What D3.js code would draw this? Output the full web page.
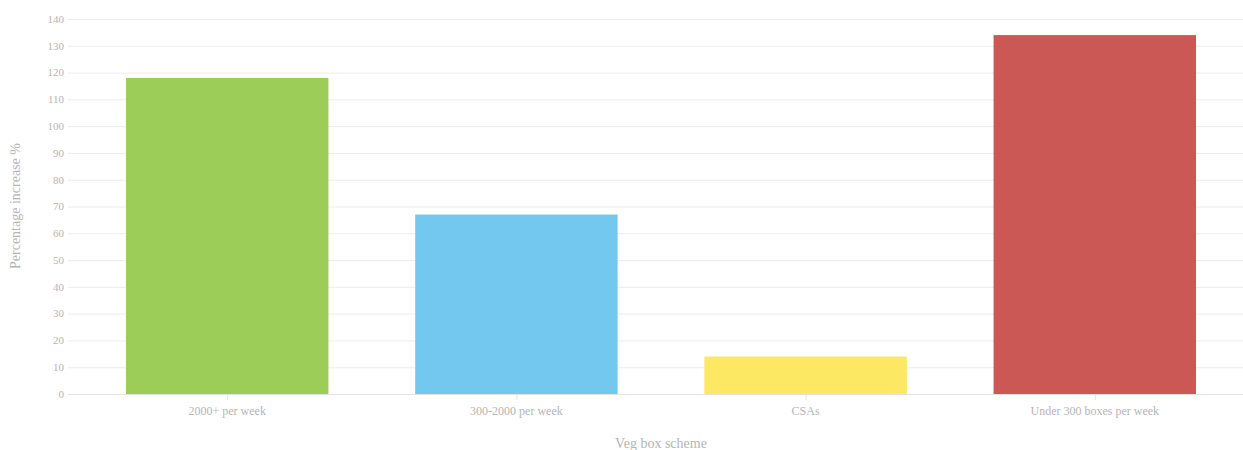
<!DOCTYPE html>
<html lang="en">
<head>
    <meta charset="utf-8">
    <script src="https://cdn.jsdelivr.net/npm/d3@7"></script>
    <style>
        body { margin: 0; background: white; }
        text { font-family: "Liberation Serif", serif; fill: #b5b5b5; }
        .grid line { stroke: #ececec; stroke-width: 1px; }
    </style>
</head>
<body>
<script>
    const categories = ['2000+ per week', '300-2000 per week', 'CSAs', 'Under 300 boxes per week'];
    const values = [118, 67, 14, 134];
    const colors = ['#97ca4f', '#6cc5ee', '#fce75b', '#c84f4c'];
    const yTicks = [0, 10, 20, 30, 40, 50, 60, 70, 80, 90, 100, 110, 120, 130, 140];

    const width = 1243, height = 450;
    const svg = d3.select('body').append('svg')
        .attr('width', width).attr('height', height);

    const y = d3.scaleLinear().domain([0, 140]).range([394, 19]);
    const x = d3.scaleBand().domain(categories)
        .range([82.6, 1239.4]).paddingInner(0.3).paddingOuter(0.15);

    // horizontal grid lines
    svg.append('g').attr('class', 'grid').selectAll('line')
        .data(yTicks.filter(d => d > 0))
        .enter().append('line')
        .attr('x1', 68).attr('x2', width)
        .attr('y1', d => y(d) + 0.5).attr('y2', d => y(d) + 0.5);

    // y tick labels
    svg.append('g').selectAll('text')
        .data(yTicks)
        .enter().append('text')
        .attr('x', 64).attr('y', d => y(d))
        .attr('dy', '0.35em')
        .attr('text-anchor', 'end')
        .style('font-size', '11px')
        .text(d => d);

    // bars
    svg.append('g').selectAll('rect')
        .data(values)
        .enter().append('rect')
        .attr('x', (d, i) => x(categories[i]))
        .attr('y', d => y(d))
        .attr('width', x.bandwidth())
        .attr('height', d => y(0) - y(d))
        .attr('fill', (d, i) => colors[i])
        .attr('fill-opacity', 0.95);

    // baseline
    svg.append('line')
        .attr('x1', 68).attr('x2', width)
        .attr('y1', y(0) + 0.5).attr('y2', y(0) + 0.5)
        .attr('stroke', '#e3e3e3');

    // x ticks + labels
    const xt = svg.append('g').selectAll('g')
        .data(categories)
        .enter().append('g')
        .attr('transform', d => 'translate(' + (x(d) + x.bandwidth() / 2) + ',0)');
    xt.append('line')
        .attr('x1', 0.5).attr('x2', 0.5)
        .attr('y1', y(0)).attr('y2', y(0) + 6)
        .attr('stroke', '#e3e3e3');
    xt.append('text')
        .attr('y', 411).attr('dy', '0.35em')
        .attr('text-anchor', 'middle')
        .style('font-size', '12px')
        .text(d => d);

    // axis titles
    svg.append('text')
        .attr('x', 661).attr('y', 443).attr('dy', '0.35em')
        .attr('text-anchor', 'middle')
        .style('font-size', '14px')
        .text('Veg box scheme');

    svg.append('text')
        .attr('transform', 'translate(15,206) rotate(-90)')
        .attr('dy', '0.35em')
        .attr('text-anchor', 'middle')
        .style('font-size', '14px')
        .text('Percentage increase %');
</script>
</body>
</html>
